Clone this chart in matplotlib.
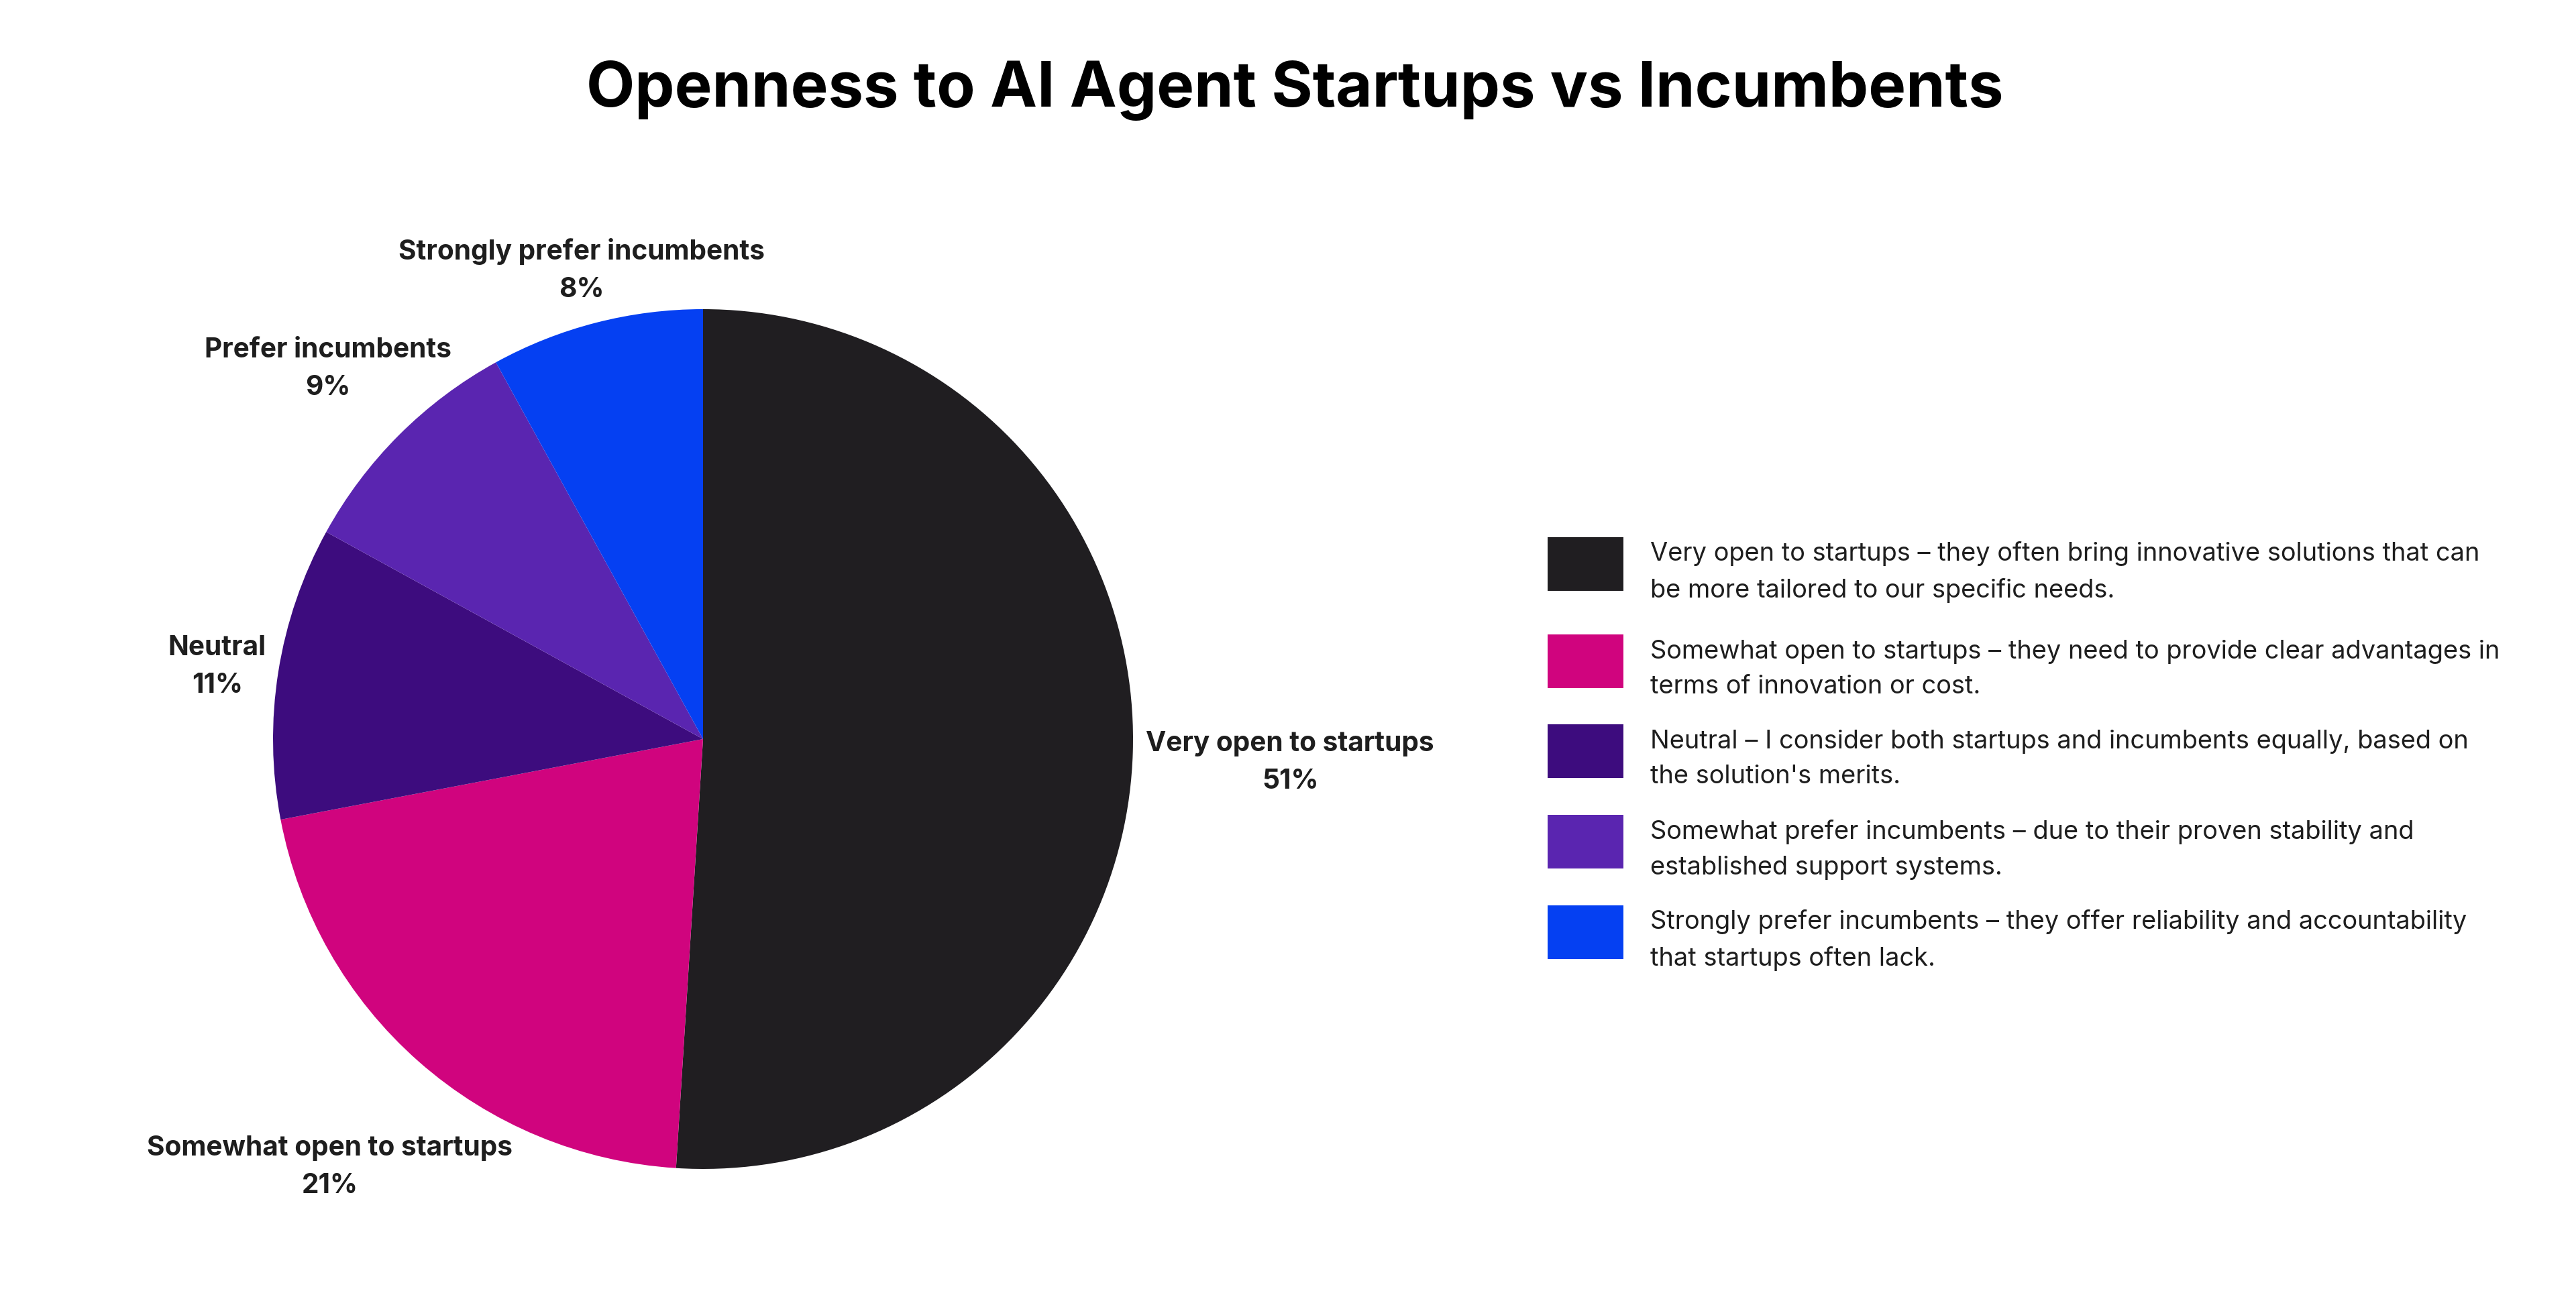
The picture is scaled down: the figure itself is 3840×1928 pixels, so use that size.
import numpy as np
import matplotlib
matplotlib.use("Agg")
import matplotlib.pyplot as plt
from matplotlib.patches import Rectangle

plt.rcParams['font.family'] = ['Inter', 'DejaVu Sans']

# data
short_labels = ["Very open to startups", "Somewhat open to startups", "Neutral",
                "Prefer incumbents", "Strongly prefer incumbents"]
shares = [51, 21, 11, 9, 8]
legend_texts = [
    "Very open to startups – they often bring innovative solutions that can\nbe more tailored to our specific needs.",
    "Somewhat open to startups – they need to provide clear advantages in\nterms of innovation or cost.",
    "Neutral – I consider both startups and incumbents equally, based on\nthe solution's merits.",
    "Somewhat prefer incumbents – due to their proven stability and\nestablished support systems.",
    "Strongly prefer incumbents – they offer reliability and accountability\nthat startups often lack.",
]
colors = ["#201e21", "#d0047e", "#3d0c7e", "#5a25b0", "#0540f2"]

W, H = 3840, 1928
fig = plt.figure(figsize=(W / 200, H / 200), dpi=200)
fig.patch.set_facecolor("white")

# pie axes: center (1048, 1102) px, radius 641 px
cx, cy, R = 1048, 1102, 641
ax = fig.add_axes([(cx - R) / W, (H - cy - R) / H, 2 * R / W, 2 * R / H])
wedges, _ = ax.pie(shares, colors=colors, startangle=90, counterclock=False,
                   radius=1, wedgeprops=dict(linewidth=0))
ax.set_xlim(-1, 1)
ax.set_ylim(-1, 1)
ax.set_aspect("auto")
ax.axis("off")

fig.text(0.5027, 1 - 135 / H, "Openness to AI Agent Startups vs Incumbents",
         ha="center", va="center", fontsize=33.8, fontweight="bold", color="black")

# outside labels, pushed out along the slice bisector so the box clears the pie
fig.canvas.draw()
renderer = fig.canvas.get_renderer()
gap = 20 / R
drop = 7 / R
total = sum(shares)
cum = 0
for lab, v in zip(short_labels, shares):
    mid = np.deg2rad(90 - (cum + v / 2) / total * 360)
    cum += v
    ux, uy = np.cos(mid), np.sin(mid)
    t = ax.text(0, 0, f"{lab}\n{v}%", ha="center", va="center", fontsize=14.6,
                fontweight="bold", color="#1e1e1e", linespacing=1.6,
                multialignment="center")
    bb = t.get_window_extent(renderer)
    hw, hh = bb.width / 2 / R, bb.height / 2 / R
    ext = max(abs(ux) * hw, abs(uy) * hh)
    d = 1 + gap + ext
    t.set_position((ux * d, uy * d - drop))

# legend
tops = [801, 946, 1080, 1215, 1350]
for top, c, txt in zip(tops, colors, legend_texts):
    fig.patches.append(Rectangle((2307 / W, 1 - (top + 80) / H), 113 / W, 80 / H,
                                 transform=fig.transFigure, facecolor=c,
                                 edgecolor="none"))
    fig.text(2460 / W, 1 - (top + 52) / H, txt, ha="left", va="center",
             fontsize=13.7, color="#1e1e1e", linespacing=1.6)

fig.savefig("out.png", dpi=200, facecolor="white")
